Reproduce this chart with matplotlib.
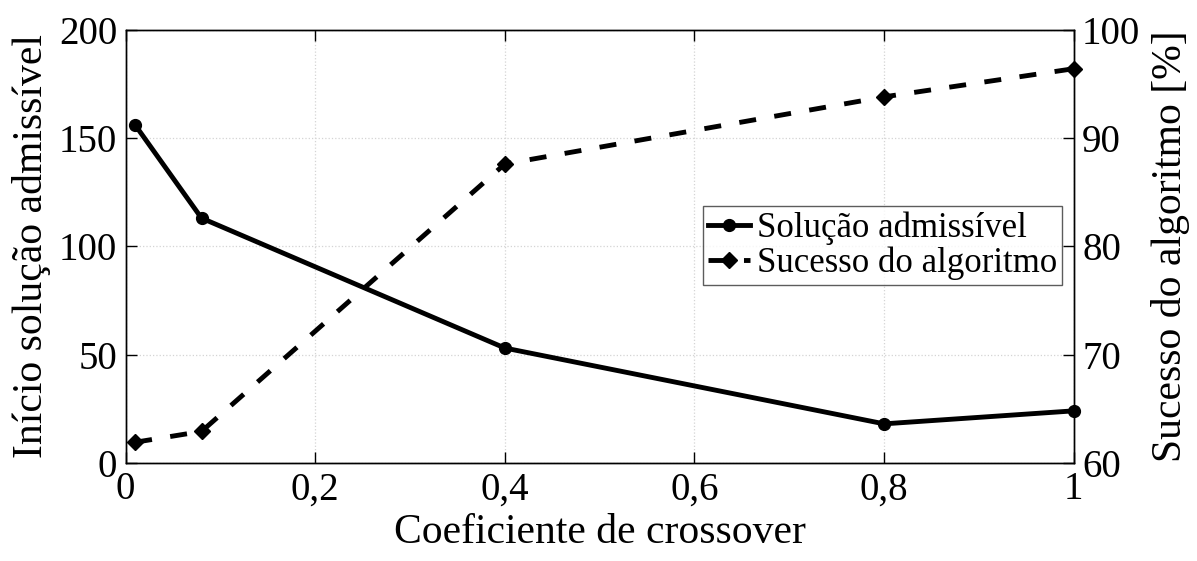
import matplotlib.pyplot as plt
import matplotlib.ticker as mticker

plt.rcParams['font.family'] = ['Liberation Serif', 'DejaVu Serif']

coef = [0.01, 0.08, 0.4, 0.8, 1.0]
inicio = [156, 113, 53, 18, 24]
sucesso = [61.9, 62.9, 87.6, 93.8, 96.4]

fig, ax = plt.subplots(figsize=(11.97, 5.61), dpi=100)
fig.subplots_adjust(left=0.105, right=0.897, top=0.947, bottom=0.175)
ax2 = ax.twinx()

l1, = ax.plot(coef, inicio, '-', color='k', lw=3.5, marker='o', ms=8.5,
              label='Solução admissível', clip_on=False, zorder=5)
l2, = ax2.plot(coef, sucesso, '--', color='k', lw=3.5, marker='D', ms=8,
               dashes=(3.5, 3.8), label='Sucesso do algoritmo', clip_on=False, zorder=5)

ax.set_xlim(0, 1)
ax.set_ylim(0, 200)
ax2.set_ylim(60, 100)
ax.set_xticks([0, 0.2, 0.4, 0.6, 0.8, 1])
ax.set_yticks([0, 50, 100, 150, 200])
ax2.set_yticks([60, 70, 80, 90, 100])

# decimal comma on the x tick labels
def comma(v, pos):
    return ('%g' % v).replace('.', ',')
ax.xaxis.set_major_formatter(mticker.FuncFormatter(comma))

ax.grid(True, color='#d4d4d4', linestyle=':', linewidth=0.9)
ax.set_axisbelow(True)

for a in (ax, ax2):
    a.tick_params(direction='in', length=8, width=1, labelsize=28, pad=6)
    for s in a.spines.values():
        s.set_linewidth(1)
ax.tick_params(top=True)

ax.set_xlabel('Coeficiente de crossover', fontsize=30, labelpad=4)
ax.set_ylabel('Início solução admissível', fontsize=30, labelpad=6)
ax2.set_ylabel('Sucesso do algoritmo [%]', fontsize=30, labelpad=8)

leg = ax2.legend(handles=[l1, l2], loc='center right', bbox_to_anchor=(0.988, 0.501),
                 fontsize=25, frameon=True, fancybox=False, edgecolor='#333333',
                 handlelength=1.2, handletextpad=0.2, borderpad=0.15,
                 labelspacing=0.05, borderaxespad=0)
leg.get_frame().set_linewidth(1)

fig.savefig('out.png', dpi=100)
